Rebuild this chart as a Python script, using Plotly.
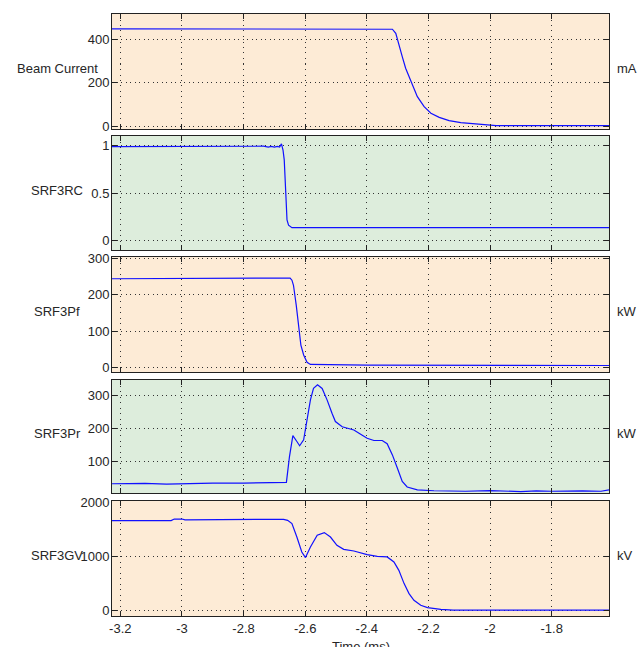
import plotly.graph_objects as go

# ---------------- data ----------------
time_beam = [-3.227, -2.32, -2.317, -2.306, -2.296, -2.285, -2.274, -2.258, -2.236, -2.214,
             -2.192, -2.165, -2.133, -2.095, -2.051, -2.018, -1.98, -1.614]
beam_current = [448, 448, 446, 427, 381, 320, 267, 213, 136, 90,
                60, 41, 26, 17, 11, 5, 3, 3]

time_rc = [-3.227, -2.75, -2.735, -2.72, -2.71, -2.70, -2.69, -2.683, -2.677, -2.672,
           -2.668, -2.663, -2.659, -2.654, -2.643, -1.614]
srf3rc = [0.99, 0.99, 0.995, 0.985, 0.993, 0.985, 0.992, 0.985, 1.02, 0.955,
          0.85, 0.5, 0.215, 0.16, 0.133, 0.133]

time_pf = [-3.227, -2.714, -2.712, -2.649, -2.643, -2.638, -2.629, -2.621, -2.614, -2.605,
           -2.594, -2.583, -2.4, -1.614]
srf3pf = [244, 244, 246, 246, 240, 226, 171, 107, 62, 35,
          15, 9, 7, 6]

time_pr = [-3.227, -3.12, -3.05, -2.98, -2.9, -2.8, -2.72, -2.68, -2.672, -2.661,
           -2.651, -2.640, -2.627, -2.618, -2.605, -2.594, -2.583, -2.573, -2.560, -2.545,
           -2.529, -2.513, -2.502, -2.480, -2.442, -2.420, -2.399, -2.377, -2.350, -2.334,
           -2.317, -2.301, -2.285, -2.269, -2.236, -2.182, -2.12, -2.08, -2.0, -1.95,
           -1.9, -1.85, -1.8, -1.7, -1.64, -1.614]
srf3pr = [31, 32, 30, 32, 33, 33, 34, 33, 33, 35,
          114, 178, 160, 147, 165, 226, 287, 322, 333, 322,
          287, 246, 221, 205, 195, 182, 170, 163, 163, 153,
          119, 79, 38, 21, 12.5, 9.5, 9, 8, 10, 9,
          7, 9, 8, 9, 8, 12]

time_gv = [-3.227, -3.035, -3.025, -3.0, -2.99, -2.80, -2.670, -2.657, -2.643, -2.627,
           -2.611, -2.599, -2.583, -2.561, -2.538, -2.518, -2.497, -2.475, -2.442, -2.399,
           -2.366, -2.334, -2.312, -2.296, -2.279, -2.263, -2.247, -2.225, -2.203, -2.160,
           -2.12, -1.614]
srf3gv = [1657, 1657, 1685, 1685, 1670, 1675, 1680, 1661, 1600, 1353,
          1077, 973, 1169, 1385, 1435, 1353, 1200, 1126, 1095, 1028,
          997, 985, 892, 738, 493, 308, 185, 92, 50, 18,
          5, 5]

panel_times = [time_beam, time_rc, time_pf, time_pr, time_gv]
panel_values = [beam_current, srf3rc, srf3pf, srf3pr, srf3gv]
panel_labels = ["Beam Current", "SRF3RC", "SRF3Pf", "SRF3Pr", "SRF3GV"]
panel_units = ["mA", "", "kW", "kW", "kV"]
y_ranges = [[-12.4, 516], [-0.103, 1.103], [-11.8, 303.6], [2.7, 347.7], [-105, 2018]]
y_tick_vals = [[0, 200, 400], [0, 0.5, 1], [0, 100, 200, 300], [100, 200, 300], [0, 1000, 2000]]
y_tick_text = [["0", "200", "400"], ["0", "0.5", "1"], ["0", "100", "200", "300"],
               ["100", "200", "300"], ["0", "1000", "2000"]]
x_range = [-3.227, -1.614]
x_tick_vals = [-3.2, -3.0, -2.8, -2.6, -2.4, -2.2, -2.0, -1.8]
x_tick_text = ["-3.2", "-3", "-2.8", "-2.6", "-2.4", "-2.2", "-2", "-1.8"]
x_title = "Time (ms)"

# ---------------- layout ----------------
W, H = 640, 647
M_L, M_R, M_T, M_B = 112, 31, 14, 31
plot_w = W - M_L - M_R
plot_h = H - M_T - M_B
panel_px = [(14, 129), (136, 250), (257, 372), (380, 493), (501, 616)]
panel_bg = ["#FDEBD6", "#DDEDDC", "#FDEBD6", "#DDEDDC", "#FDEBD6"]
FONT = "Liberation Sans, Arial, Helvetica, sans-serif"
TXT = "#262626"
GRID = "#333333"
bottom_px = H - M_B

fig = go.Figure()
layout = dict(
    template="none",
    width=W, height=H,
    margin=dict(l=M_L, r=M_R, t=M_T, b=M_B, pad=0, autoexpand=False),
    paper_bgcolor="white",
    plot_bgcolor="white",
    showlegend=False,
    font=dict(family=FONT, size=13, color=TXT),
    shapes=[], annotations=[],
)

for i in range(5):
    n = i + 1
    xa = "x" if n == 1 else f"x{n}"
    ya = "y" if n == 1 else f"y{n}"
    xkey = "xaxis" if n == 1 else f"xaxis{n}"
    ykey = "yaxis" if n == 1 else f"yaxis{n}"
    top, bot = panel_px[i]
    dom = [(bottom_px - bot) / plot_h, (bottom_px - top) / plot_h]
    label_y = 0.5 + 3.0 / (bot - top)

    fig.add_trace(go.Scatter(x=panel_times[i], y=panel_values[i], mode="lines",
                             line=dict(color="#1010FF", width=1.2),
                             xaxis=xa, yaxis=ya, hoverinfo="skip"))

    layout[xkey] = dict(
        domain=[0, 1], anchor=ya, range=x_range, automargin=False,
        tickmode="array", tickvals=x_tick_vals, ticktext=x_tick_text,
        showticklabels=(i == 4),
        ticks="inside", ticklen=5, tickcolor="#222", tickwidth=1,
        showline=True, linecolor="#222", linewidth=1, mirror="ticks",
        showgrid=True, gridcolor=GRID, gridwidth=1, griddash="1px,4.5px",
        zeroline=False, tickfont=dict(size=13, color=TXT),
        ticklabelstandoff=0,
    )
    if i != 4:
        layout[xkey]["matches"] = "x5"
    layout[ykey] = dict(
        domain=dom, anchor=xa, range=y_ranges[i], automargin=False,
        tickmode="array", tickvals=y_tick_vals[i], ticktext=y_tick_text[i],
        ticks="inside", ticklen=5, tickcolor="#222", tickwidth=1,
        showline=True, linecolor="#222", linewidth=1, mirror="ticks",
        showgrid=True, gridcolor=GRID, gridwidth=1, griddash="1px,3.5px",
        zeroline=False, tickfont=dict(size=13, color=TXT),
        ticklabelstandoff=-1,
    )
    layout["shapes"].append(dict(type="rect", xref=f"{xa} domain", yref=f"{ya} domain",
                                 x0=0, x1=1, y0=0, y1=1, fillcolor=panel_bg[i],
                                 line=dict(width=0), layer="below"))
    layout["annotations"].append(dict(text=panel_labels[i], xref="paper", yref=f"{ya} domain",
                                      x=(57 - M_L) / plot_w, y=label_y,
                                      xanchor="center", yanchor="middle", showarrow=False,
                                      font=dict(size=13, color=TXT)))
    if panel_units[i]:
        layout["annotations"].append(dict(text=panel_units[i], xref="paper", yref=f"{ya} domain",
                                          x=(615 - M_L) / plot_w, y=label_y,
                                          xanchor="left", yanchor="middle", showarrow=False,
                                          font=dict(size=13, color=TXT)))

layout["annotations"].append(dict(text=x_title, xref="paper", yref="paper",
                                  x=0.5, y=-(646 - bottom_px) / plot_h,
                                  xanchor="center", yanchor="middle", showarrow=False,
                                  font=dict(size=13, color=TXT)))

fig.update_layout(**layout)
fig.write_html("out.html",
               config={"displayModeBar": False},
               post_script="document.body.style.margin='0px';"
                           "document.body.style.overflow='hidden';")
